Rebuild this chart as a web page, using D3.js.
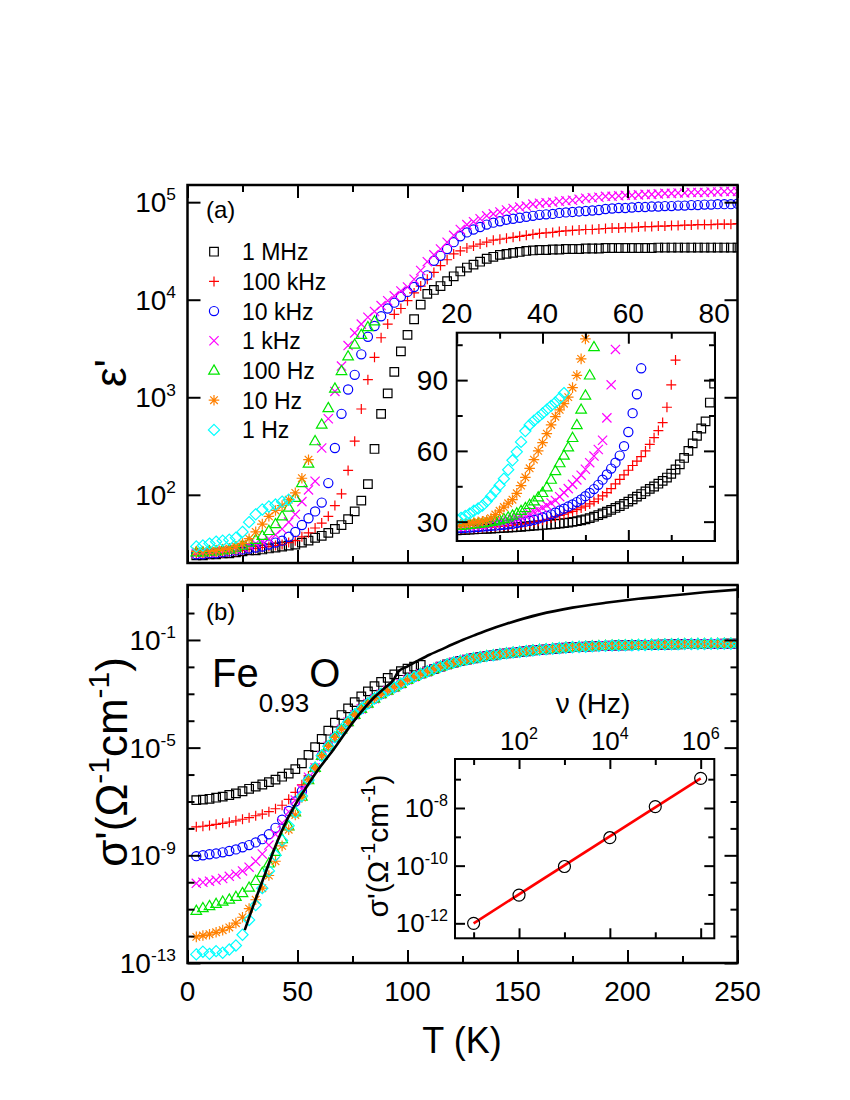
<!DOCTYPE html>
<html>
<head>
<meta charset="utf-8">
<script src="https://cdn.jsdelivr.net/npm/d3@7"></script>
<style>
  body { margin: 0; background: #fff; }
  svg { display: block; font-family: "Liberation Sans", Arial, sans-serif; }
</style>
</head>
<body>
<div id="chart"></div>
<script>
//temperatures (K) of the main panels
var temps = [4,7,10,13,16,19,22,25,28,31,34,37,40,43,46,49,52,55,58,61,
  64,67,70,73,76,79,82,85,88,91,94,97,100,103,106,109,112,115,118,121,
  124,127,130,133,136,139,142,145,148,151,154,157,160,163,166,169,172,175,178,181,
  184,187,190,193,196,199,202,205,208,211,214,217,220,223,226,229,232,235,238,241,
  244,247,250];

//(a) log10 eps' per frequency, read at temps (shorter series stop where they leave view)
var logEps1MHz = [1.38,1.38,1.39,1.39,1.40,1.40,1.41,1.42,1.43,1.43,
  1.44,1.45,1.46,1.47,1.48,1.49,1.51,1.53,1.56,1.58,
  1.61,1.65,1.69,1.75,1.83,1.94,2.11,2.47,2.83,3.04,
  3.26,3.47,3.64,3.80,3.95,4.06,4.10,4.14,4.19,4.24,
  4.29,4.33,4.36,4.39,4.42,4.44,4.46,4.47,4.48,4.49,
  4.50,4.505,4.51,4.51,4.515,4.515,4.52,4.52,4.52,4.525,
  4.525,4.525,4.53,4.53,4.53,4.53,4.53,4.53,4.53,4.53,
  4.535,4.535,4.535,4.535,4.535,4.535,4.535,4.535,4.535,4.535,4.535,4.535,4.535];
var logEps100kHz = [1.39,1.39,1.39,1.40,1.40,1.41,1.42,1.43,1.44,1.45,
  1.46,1.47,1.48,1.49,1.51,1.53,1.57,1.61,1.66,1.71,
  1.78,1.89,2.01,2.25,2.55,2.88,3.18,3.41,3.61,3.75,
  3.85,3.91,3.99,4.07,4.14,4.21,4.28,4.35,4.41,4.47,
  4.50,4.53,4.55,4.57,4.59,4.61,4.62,4.63,4.64,4.65,
  4.66,4.67,4.68,4.685,4.69,4.70,4.705,4.71,4.715,4.72,
  4.72,4.725,4.73,4.735,4.735,4.74,4.74,4.745,4.75,4.75,
  4.755,4.755,4.76,4.76,4.765,4.765,4.77,4.77,4.77,4.775,4.775,4.775,4.78];
var logEps10kHz = [1.39,1.39,1.40,1.40,1.41,1.42,1.43,1.44,1.45,1.46,
  1.47,1.49,1.51,1.53,1.57,1.62,1.69,1.76,1.83,1.92,
  2.12,2.48,2.83,3.08,3.23,3.44,3.62,3.73,3.83,3.91,
  3.97,4.03,4.08,4.13,4.18,4.25,4.40,4.45,4.52,4.59,
  4.65,4.69,4.72,4.745,4.77,4.79,4.805,4.82,4.83,4.84,
  4.85,4.86,4.87,4.875,4.88,4.89,4.895,4.90,4.905,4.91,
  4.915,4.92,4.93,4.935,4.94,4.94,4.945,4.95,4.95,4.955,
  4.955,4.96,4.96,4.965,4.965,4.97,4.97,4.975,4.975,4.98,4.98,4.98,4.985];
var logEps1kHz = [1.40,1.40,1.41,1.41,1.42,1.43,1.44,1.46,1.48,1.50,
  1.52,1.55,1.59,1.65,1.72,1.80,1.93,2.05,2.14,2.48,
  2.78,3.06,3.32,3.53,3.66,3.75,3.82,3.88,3.94,3.99,
  4.04,4.09,4.13,4.21,4.30,4.39,4.46,4.52,4.59,4.66,
  4.72,4.77,4.80,4.83,4.86,4.88,4.90,4.92,4.935,4.95,
  4.96,4.98,4.99,4.995,5.00,5.01,5.015,5.02,5.03,5.04,
  5.045,5.05,5.06,5.06,5.065,5.07,5.07,5.075,5.08,5.08,
  5.085,5.09,5.09,5.095,5.095,5.10,5.10,5.10,5.105,5.105,5.11,5.11,5.11];
var logEps100Hz = [1.41,1.41,1.42,1.42,1.43,1.44,1.46,1.48,1.51,1.54,
  1.58,1.63,1.70,1.78,1.87,1.97,2.12,2.32,2.55,2.72,
  2.89,3.09,3.27,3.42,3.54,3.64,3.72,3.78];
var logEps10Hz = [1.42,1.42,1.42,1.43,1.44,1.45,1.47,1.50,1.55,1.62,
  1.70,1.78,1.84,1.89,1.95,2.02,2.17,2.36];
var logEps1Hz = [1.47,1.48,1.50,1.52,1.53,1.54,1.56,1.62,1.72,1.80,
  1.85,1.88,1.90,1.93,1.95];

//(a) inset: eps' (linear) at 1 K steps from 20 K
var insetTemps = [20,21,22,23,24,25,26,27,28,29,30,31,32,33,34,35,36,37,38,39,
  40,41,42,43,44,45,46,47,48,49,50,51,52,53,54,55,56,57,58,59,
  60,61,62,63,64,65,66,67,68,69,70,71,72,73,74,75,76,77,78,79,80];
var insEps1MHz = [26.3,26.4,26.5,26.6,26.7,26.8,26.9,27.0,27.1,27.2,
  27.3,27.4,27.5,27.6,27.7,27.8,28.0,28.1,28.3,28.4,
  28.6,28.7,28.9,29.0,29.2,29.4,29.6,29.9,30.2,30.6,
  31.0,31.5,32.1,32.8,33.5,34.2,35.0,35.8,36.6,37.5,
  38.5,39.5,40.6,41.7,42.8,43.9,44.9,46.1,47.3,48.7,
  50.3,52.1,54.3,57.0,60.0,63.2,66.4,69.5,72.5,80.5,88.5];
var insEps100kHz = [26.8,26.9,27.0,27.1,27.2,27.3,27.4,27.6,27.7,27.8,
  28.0,28.1,28.3,28.5,28.7,28.9,29.2,29.5,29.8,30.2,
  30.6,31.0,31.5,32.0,32.6,33.2,33.8,34.4,35.1,35.8,
  36.6,37.5,38.5,39.6,40.9,42.3,44.0,46.0,47.9,49.8,
  51.8,53.8,55.7,57.6,60.0,62.8,65.6,68.6,72.0,78.5,88.0,98.5];
var insEps10kHz = [27.2,27.3,27.4,27.5,27.6,27.7,27.9,28.0,28.2,28.3,
  28.5,28.7,28.9,29.1,29.4,29.7,30.0,30.4,30.8,31.3,
  31.8,32.4,33.1,33.9,34.7,35.5,36.4,37.3,38.3,39.4,
  40.8,42.2,43.8,45.6,47.8,50.0,52.5,55.0,58.0,62.0,
  68.0,76.0,84.0,95.0];
var insEps1kHz = [27.8,27.9,28.0,28.2,28.3,28.5,28.7,28.9,29.1,29.4,
  29.7,30.0,30.4,30.9,31.4,32.0,32.7,33.4,34.2,35.0,
  35.9,36.9,37.9,39.0,40.6,42.3,44.0,45.8,47.7,49.7,
  52.2,55.0,57.8,60.6,64.5,74.0,88.0,103.0];
var insEps100Hz = [28.3,28.4,28.5,28.7,28.9,29.1,29.3,29.6,29.9,30.2,
  30.6,31.1,31.8,32.6,33.5,34.6,35.8,37.1,38.6,40.3,
  42.2,44.6,47.8,51.5,54.8,58.0,61.5,65.5,71.0,77.5,
  83.5,92.0,104.0];
var insEps10Hz = [28.9,29.0,29.2,29.4,29.6,29.9,30.2,30.6,31.5,33.0,
  34.6,36.2,37.8,39.3,42.0,45.3,48.8,52.6,56.3,60.0,
  63.5,67.3,71.0,74.5,77.4,80.0,82.8,86.8,92.0,99.0,107.5];
var insEps1Hz = [31.0,31.6,32.4,33.4,34.6,35.6,36.8,38.6,40.8,43.0,
  45.4,48.2,52.0,56.0,59.6,63.8,68.4,71.0,72.8,74.3,
  75.9,77.5,79.1,80.5,82.3,84.5];

//(b) log10 sigma': frequency dependent part at temps, then the common dc curve from 58 K
var logSig1MHz = [-6.95,-6.93,-6.90,-6.86,-6.82,-6.76,-6.70,-6.62,-6.53,-6.45,
  -6.37,-6.28,-6.19,-6.08,-5.96,-5.80,-5.58,-5.27,-4.98,-4.68,
  -4.37,-4.07,-3.79,-3.54,-3.31,-3.10,-2.91,-2.72,-2.56,-2.41,
  -2.28,-2.16,-2.07,-1.99,-1.93];
var logSig100kHz = [-7.94,-7.92,-7.89,-7.85,-7.81,-7.77,-7.72,-7.66,-7.60,-7.53,
  -7.47,-7.38,-7.27,-7.14,-6.92,-6.66,-6.38,-6.05];
var logSig10kHz = [-9.03,-9.00,-8.96,-8.93,-8.89,-8.84,-8.78,-8.70,-8.62,-8.52,
  -8.40,-8.22,-7.98,-7.68,-7.35,-7.00,-6.62,-6.18];
var logSig1kHz = [-10.04,-10.00,-9.96,-9.92,-9.86,-9.78,-9.70,-9.58,-9.44,-9.22,
  -8.95,-8.62,-8.22,-7.80,-7.38,-6.95,-6.55,-6.10];
var logSig100Hz = [-11.06,-10.96,-10.88,-10.80,-10.72,-10.64,-10.54,-10.40,-10.20,-9.95,
  -9.65,-9.30,-8.87,-8.40,-7.92,-7.40,-6.82,-6.20];
var logSig10Hz = [-12.03,-11.98,-11.93,-11.86,-11.78,-11.68,-11.52,-11.30,-10.98,-10.65,
  -10.22,-9.75,-9.22,-8.65,-8.05,-7.50,-6.85,-6.20];
var logSig1Hz = [-12.68,-12.58,-12.66,-12.56,-12.62,-12.50,-12.35,-11.95,-11.40,-10.85,
  -10.22,-9.58,-9.00,-8.45,-7.90,-7.40,-6.80,-6.20];
var dcStartT = 58;
var logSigDC = [-5.75,-5.30,-4.95,-4.62,-4.32,-4.05,-3.78,-3.56,-3.36,-3.18,
  -3.01,-2.88,-2.76,-2.63,-2.48,-2.37,-2.27,-2.17,-2.08,-1.99,
  -1.91,-1.84,-1.78,-1.73,-1.68,-1.64,-1.60,-1.57,-1.53,-1.50,
  -1.47,-1.45,-1.42,-1.39,-1.37,-1.35,-1.33,-1.31,-1.29,-1.27,
  -1.26,-1.25,-1.24,-1.23,-1.22,-1.21,-1.205,-1.20,-1.195,-1.19,
  -1.185,-1.18,-1.175,-1.17,-1.165,-1.16,-1.155,-1.155,-1.15,-1.15,
  -1.145,-1.145,-1.14,-1.14,-1.14];

//(b) fit line (solid black)
var fitT = [26,30,35,40,45,50,55,60,65,70,75,80,85,90,93.5,95.8,100,105,110,115,
  120,125,130,137,145,160,175,190,205,220,235,250];
var fitLogSig = [-11.78,-10.85,-9.75,-8.65,-7.72,-6.98,-6.35,-5.75,-5.22,-4.65,
  -4.08,-3.57,-3.12,-2.76,-2.50,-2.18,-1.98,-1.76,-1.55,-1.37,
  -1.18,-1.00,-0.84,-0.62,-0.40,-0.05,0.20,0.38,0.53,0.65,0.77,0.87];

//(b) inset: sigma' at the lowest temperature vs frequency
var insFreq = [1e1,1e2,1e3,1e4,1e5,1e6];
var insLogSig = [-12.0,-11.02,-10.03,-9.03,-7.95,-6.97];
var insFitFreq = [1e1,1e6];
var insFitLogSig = [-12.0,-6.97];

var series = [
  {label: "1 MHz",   symbol: "square",   color: "#000000", eps: logEps1MHz,   ins: insEps1MHz,   sig: logSig1MHz},
  {label: "100 kHz", symbol: "plus",     color: "#ff0000", eps: logEps100kHz, ins: insEps100kHz, sig: logSig100kHz},
  {label: "10 kHz",  symbol: "circle",   color: "#0000ff", eps: logEps10kHz,  ins: insEps10kHz,  sig: logSig10kHz},
  {label: "1 kHz",   symbol: "times",    color: "#ff00ff", eps: logEps1kHz,   ins: insEps1kHz,   sig: logSig1kHz},
  {label: "100 Hz",  symbol: "triangle", color: "#00e600", eps: logEps100Hz,  ins: insEps100Hz,  sig: logSig100Hz},
  {label: "10 Hz",   symbol: "star",     color: "#ff8000", eps: logEps10Hz,   ins: insEps10Hz,   sig: logSig10Hz},
  {label: "1 Hz",    symbol: "diamond",  color: "#00ffff", eps: logEps1Hz,    ins: insEps1Hz,    sig: logSig1Hz}
];

//open marker shapes
function symbolPath(type) {
  switch (type) {
    case "square":   return "M-4.3,-4.3h8.6v8.6h-8.6Z";
    case "plus":     return "M-5,0H5M0,-5V5";
    case "circle":   return "M4.6,0A4.6,4.6 0 1 1 -4.6,0A4.6,4.6 0 1 1 4.6,0Z";
    case "times":    return "M-4.6,-4.6L4.6,4.6M-4.6,4.6L4.6,-4.6";
    case "triangle": return "M0,-5.6L5.3,3.6H-5.3Z";
    case "star":     return "M-5.3,0H5.3M0,-5.3V5.3M-3.8,-3.8L3.8,3.8M-3.8,3.8L3.8,-3.8";
    case "diamond":  return "M0,-5.6L5.6,0L0,5.6L-5.6,0Z";
    case "bigcircle":return "M6,0A6,6 0 1 1 -6,0A6,6 0 1 1 6,0Z";
  }
}

var svg = d3.select("#chart").append("svg").attr("width", 850).attr("height", 1100);
var FONT = 28;

//scales
var x = d3.scaleLinear().domain([0, 250]).range([187.5, 737.5]);
var yEps = d3.scaleLog().domain([20, 1.5e5]).range([563, 185]);
var ySig = d3.scaleLog().domain([1e-13, 11]).range([963, 585]);
var xA = d3.scaleLinear().domain([20, 80.2]).range([456.7, 715]);
var yA = d3.scaleLinear().domain([21.8, 110.1]).range([541, 332.7]);
var xB = d3.scaleLog().domain([Math.pow(10, 0.59), Math.pow(10, 6.30)]).range([455, 714.3]);
var yB = d3.scaleLog().domain([Math.pow(10, -12.52), Math.pow(10, -6.30)]).range([938.3, 759]);

//text with sub/superscripts: parts = [[text, "sup"|"sub"|""], ...]
function richText(g, parts, size, attrs, supScale) {
  var t = g.append("text").attr("font-size", size);
  for (var k in attrs) t.attr(k, attrs[k]);
  var shift = 0;
  parts.forEach(function(p) {
    var ts = t.append("tspan").text(p[0]);
    var target = 0;
    if (p[1] === "sup") { ts.attr("font-size", size * (supScale || 0.62)); target = -size * 0.42; }
    if (p[1] === "sub") { ts.attr("font-size", size * 0.65); target = size * 0.62; }
    if (target - shift !== 0) ts.attr("dy", target - shift);
    shift = target;
  });
  return t;
}

//inward ticks on one side, using d3 axes
function ticks(g, axisFn, scale, values, len, tx, ty) {
  g.append("g")
    .attr("transform", "translate(" + tx + "," + ty + ")")
    .call(axisFn(scale).tickValues(values).tickSize(-len).tickFormat(""))
    .call(function(s) { s.select(".domain").remove(); })
    .selectAll("line").attr("stroke", "#000").attr("stroke-width", 2);
}

//frame with ticks on all four sides
function frame(g, xs, ys, xMaj, xMin, yMaj, yMin, maj, mnr, width) {
  var x0 = xs.range()[0], x1 = xs.range()[1];
  var y0 = ys.range()[1], y1 = ys.range()[0];
  ticks(g, d3.axisBottom, xs, xMaj, maj, 0, y1);
  ticks(g, d3.axisBottom, xs, xMin, mnr, 0, y1);
  ticks(g, d3.axisTop, xs, xMaj, maj, 0, y0);
  ticks(g, d3.axisTop, xs, xMin, mnr, 0, y0);
  ticks(g, d3.axisLeft, ys, yMaj, maj, x0, 0);
  ticks(g, d3.axisLeft, ys, yMin, mnr, x0, 0);
  ticks(g, d3.axisRight, ys, yMaj, maj, x1, 0);
  ticks(g, d3.axisRight, ys, yMin, mnr, x1, 0);
  g.append("rect")
    .attr("x", x0).attr("y", y0).attr("width", x1 - x0).attr("height", y1 - y0)
    .attr("fill", "none").attr("stroke", "#000").attr("stroke-width", width);
}

function markers(g, pts, xs, ys, s) {
  g.append("g")
    .selectAll("path")
    .data(pts)
    .join("path")
    .attr("transform", function(d) { return "translate(" + xs(d.t) + "," + ys(d.v) + ")"; })
    .attr("d", symbolPath(s.symbol))
    .attr("fill", "none")
    .attr("stroke", s.color)
    .attr("stroke-width", 1.2);
}

function clip(id, xs, ys) {
  svg.append("clipPath").attr("id", id).append("rect")
    .attr("x", xs.range()[0]).attr("y", ys.range()[1])
    .attr("width", xs.range()[1] - xs.range()[0])
    .attr("height", ys.range()[0] - ys.range()[1]);
}
clip("clipA", x, yEps);
clip("clipB", x, ySig);
clip("clipIA", xA, yA);
clip("clipIB", xB, yB);

var xMaj = [0, 50, 100, 150, 200, 250], xMin = [25, 75, 125, 175, 225];

//---------- panel (a) ----------
var pa = svg.append("g");
var dataA = pa.append("g").attr("clip-path", "url(#clipA)");
series.forEach(function(s) {
  var pts = s.eps.map(function(v, i) { return {t: temps[i], v: Math.pow(10, v)}; });
  markers(dataA, pts, x, yEps, s);
});
frame(pa, x, yEps, xMaj, xMin, [1e2, 1e3, 1e4, 1e5], [], 13, 7, 2.5);
[2, 3, 4, 5].forEach(function(e) {
  richText(pa, [["10", ""], [String(e), "sup"]], FONT,
    {x: 176, y: yEps(Math.pow(10, e)) + 10, "text-anchor": "end"});
});
pa.append("text").attr("x", 206).attr("y", 218).attr("font-size", 24).text("(a)");

//legend
var leg = pa.append("g");
series.forEach(function(s, i) {
  var cy = 251.7 + i * 29.7;
  leg.append("path").attr("transform", "translate(214," + cy + ")")
    .attr("d", symbolPath(s.symbol)).attr("fill", "none")
    .attr("stroke", s.color).attr("stroke-width", 1.2);
  leg.append("text").attr("x", 242).attr("y", cy + 8.5).attr("font-size", 23).text(s.label);
});

//inset (a)
var ia = svg.append("g");
ia.append("rect").attr("x", 456.7).attr("y", 332.7).attr("width", 258.3).attr("height", 208.3).attr("fill", "#fff");
var dataIA = ia.append("g").attr("clip-path", "url(#clipIA)");
series.forEach(function(s) {
  var pts = s.ins.map(function(v, i) { return {t: insetTemps[i], v: v}; });
  markers(dataIA, pts, xA, yA, s);
});
frame(ia, xA, yA, [20, 40, 60, 80], [30, 50, 70], [30, 60, 90], [45, 75, 105], 11, 6, 2);
[20, 40, 60, 80].forEach(function(v) {
  ia.append("text").attr("x", xA(v)).attr("y", 323).attr("text-anchor", "middle")
    .attr("font-size", FONT).text(v);
});
[30, 60, 90].forEach(function(v) {
  ia.append("text").attr("x", 448).attr("y", yA(v) + 10).attr("text-anchor", "end")
    .attr("font-size", FONT).text(v);
});

//---------- panel (b) ----------
var pb = svg.append("g");
var dataB = pb.append("g").attr("clip-path", "url(#clipB)");
var dcIndex = temps.indexOf(dcStartT);
series.forEach(function(s) {
  var pts = temps.map(function(t, j) {
    var v = j < s.sig.length ? s.sig[j] : logSigDC[j - dcIndex];
    return {t: t, v: Math.pow(10, v)};
  });
  markers(dataB, pts, x, ySig, s);
});
var fitLine = d3.line()
  .x(function(d, i) { return x(fitT[i]); })
  .y(function(d) { return ySig(Math.pow(10, d)); })
  .curve(d3.curveMonotoneX);
dataB.append("path").attr("d", fitLine(fitLogSig))
  .attr("fill", "none").attr("stroke", "#000").attr("stroke-width", 2.6);

frame(pb, x, ySig, xMaj, xMin, [1e-13, 1e-9, 1e-5, 1e-1],
  [1e-12, 1e-11, 1e-10, 1e-8, 1e-7, 1e-6, 1e-4, 1e-3, 1e-2, 1e0], 13, 7, 2.5);
[-13, -9, -5, -1].forEach(function(e) {
  richText(pb, [["10", ""], [String(e), "sup"]], FONT,
    {x: 176, y: ySig(Math.pow(10, e)) + 10, "text-anchor": "end"});
});
pb.append("text").attr("x", 206).attr("y", 620).attr("font-size", 24).text("(b)");
richText(pb, [["Fe", ""], ["0.93", "sub"], ["O", ""]], 40, {x: 212, y: 687});
xMaj.forEach(function(v) {
  pb.append("text").attr("x", x(v)).attr("y", 1001).attr("text-anchor", "middle")
    .attr("font-size", FONT).text(v);
});

//inset (b)
var ib = svg.append("g");
ib.append("rect").attr("x", 455).attr("y", 759).attr("width", 259.3).attr("height", 179.3).attr("fill", "#fff");
var dataIB = ib.append("g").attr("clip-path", "url(#clipIB)");
var insLine = d3.line()
  .x(function(d, i) { return xB(insFitFreq[i]); })
  .y(function(d) { return yB(Math.pow(10, d)); });
dataIB.append("path").attr("d", insLine(insFitLogSig))
  .attr("fill", "none").attr("stroke", "#ff0000").attr("stroke-width", 2.6);
markers(dataIB, insFreq.map(function(f, i) { return {t: f, v: Math.pow(10, insLogSig[i])}; }),
  xB, yB, {symbol: "bigcircle", color: "#000"});
frame(ib, xB, yB, [1e2, 1e4, 1e6], [1e1, 1e3, 1e5], [1e-12, 1e-10, 1e-8], [1e-11, 1e-9, 1e-7], 10, 6, 2);
[2, 4, 6].forEach(function(e) {
  richText(ib, [["10", ""], [String(e), "sup"]], 26,
    {x: xB(Math.pow(10, e)), y: 750, "text-anchor": "middle"});
});
[-12, -10, -8].forEach(function(e) {
  richText(ib, [["10", ""], [String(e), "sup"]], 26,
    {x: 448, y: yB(Math.pow(10, e)) + 9, "text-anchor": "end"});
});
ib.append("text").attr("x", 593).attr("y", 713).attr("text-anchor", "middle")
  .attr("font-size", 28).text("\u03bd (Hz)");
richText(ib, [["\u03c3'(\u03a9", ""], ["-1", "sup"], ["cm", ""], ["-1", "sup"], [")", ""]], 30,
  {transform: "translate(388,846) rotate(-90)", "text-anchor": "middle"}, 0.68);

//---------- axis titles ----------
svg.append("text").attr("x", 462).attr("y", 1053).attr("text-anchor", "middle")
  .attr("font-size", 36).text("T (K)");
richText(svg, [["\u03b5'", ""]], 44,
  {transform: "translate(126,373) rotate(-90)", "text-anchor": "middle"});
richText(svg, [["\u03c3'(\u03a9", ""], ["-1", "sup"], ["cm", ""], ["-1", "sup"], [")", ""]], 44,
  {transform: "translate(127,762) rotate(-90)", "text-anchor": "middle"}, 0.68);
</script>
</body>
</html>
